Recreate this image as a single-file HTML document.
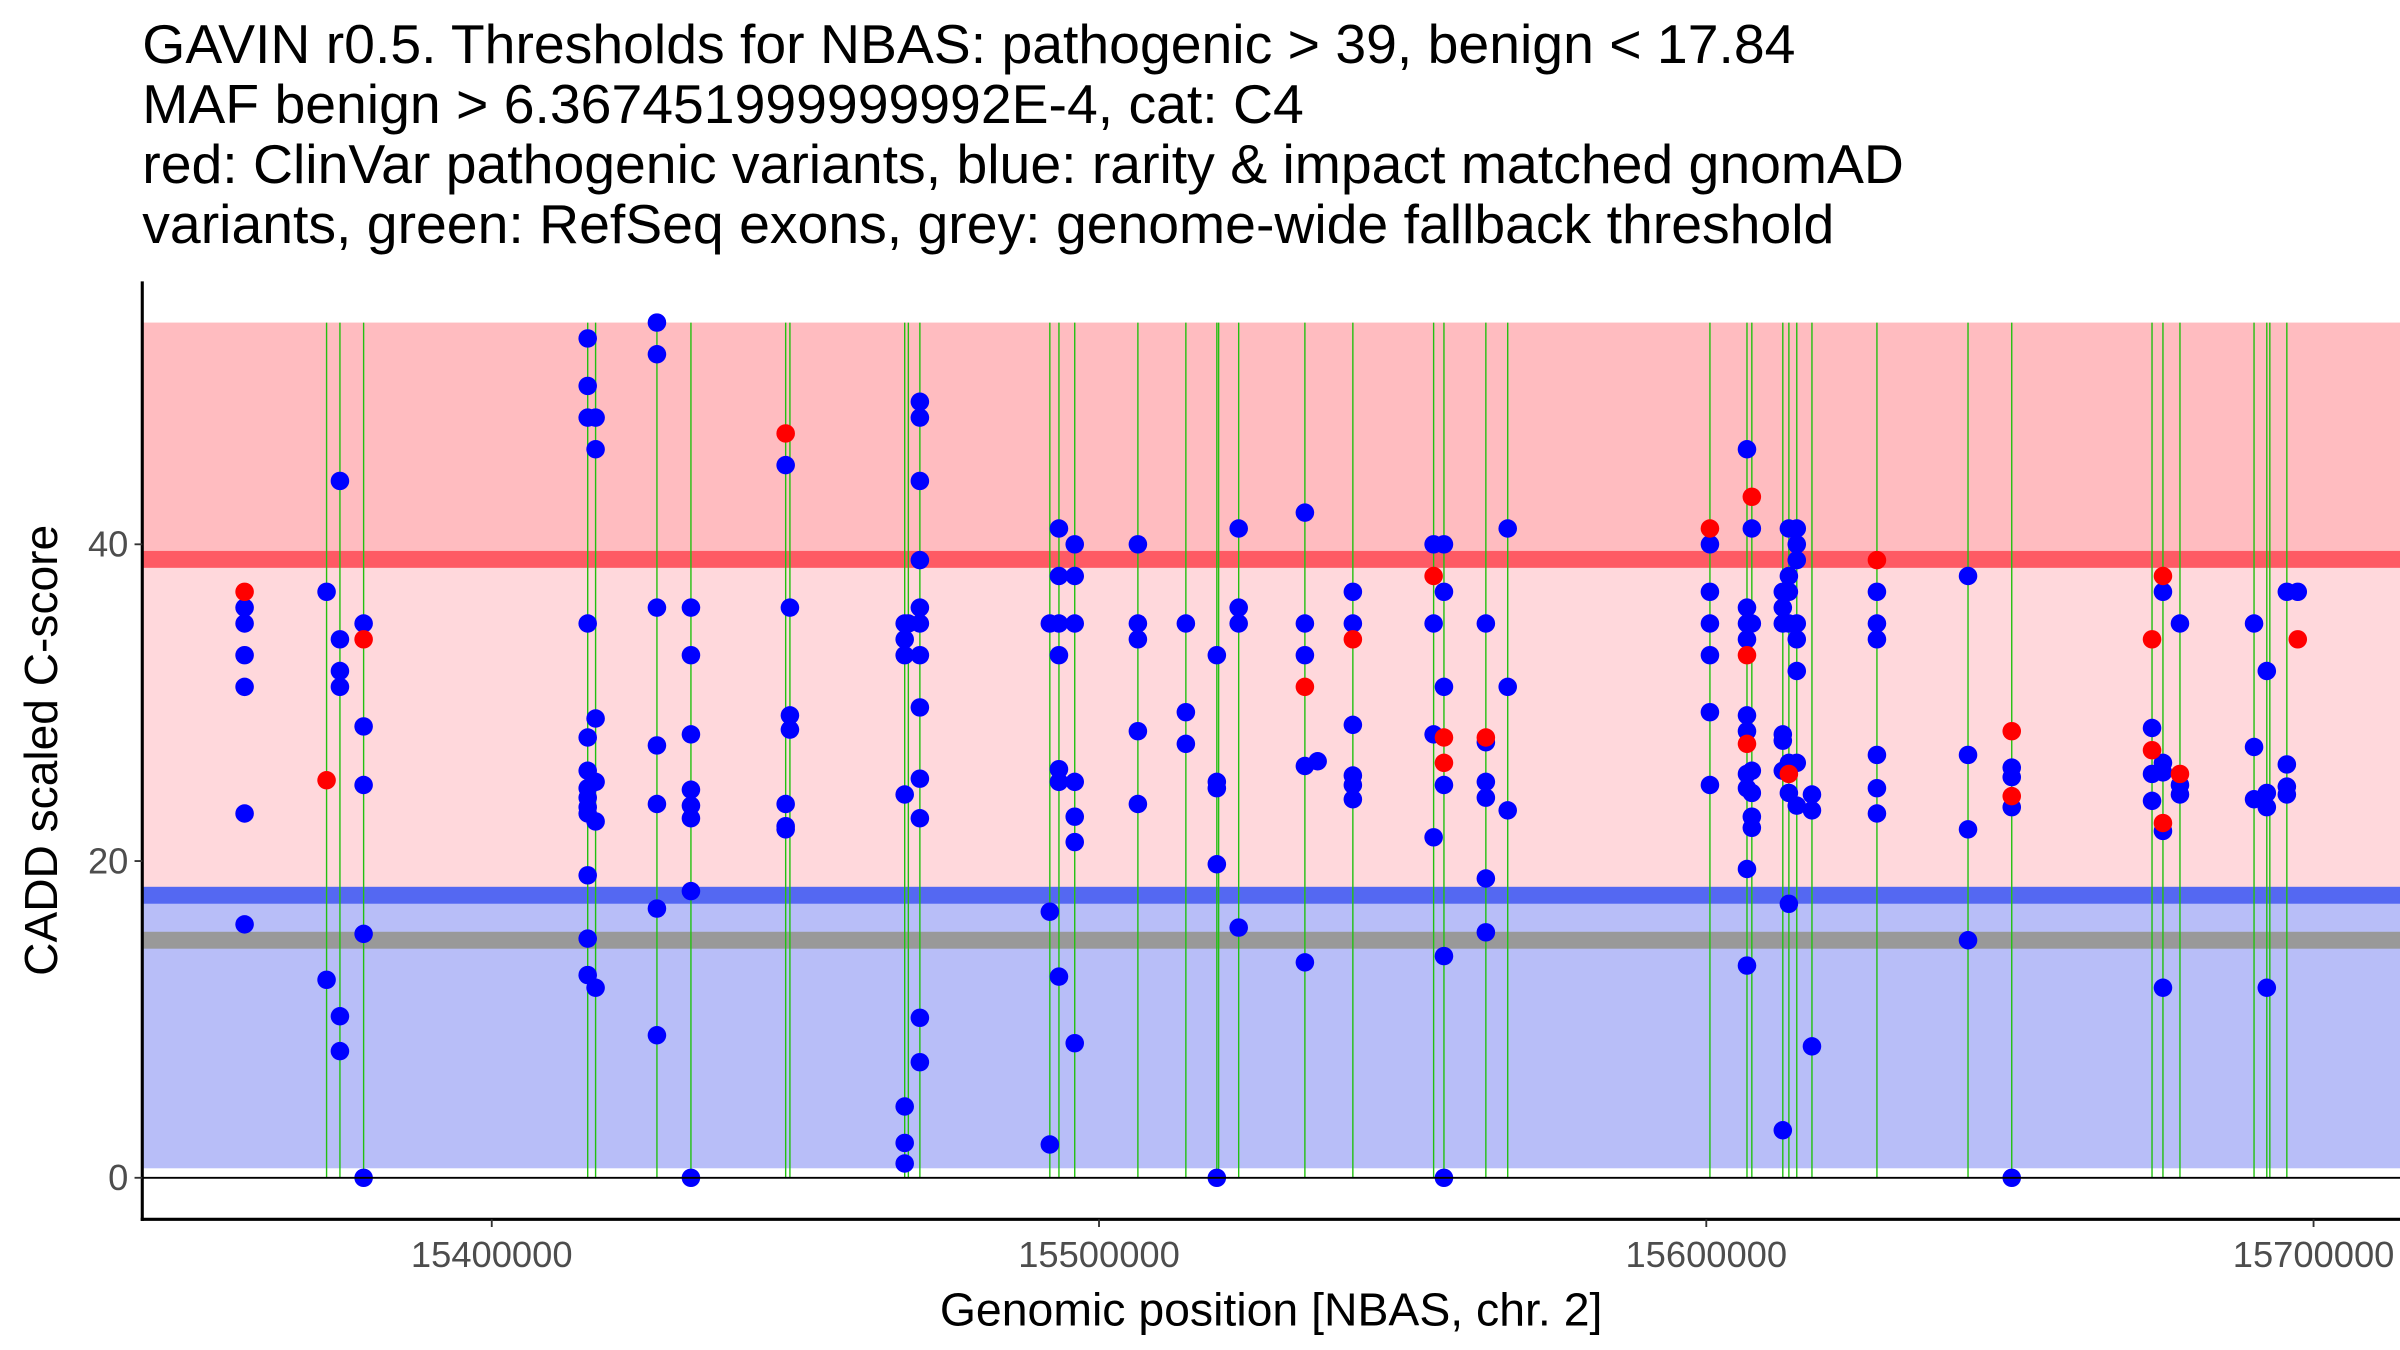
<!DOCTYPE html>
<html><head><meta charset="utf-8"><style>
html,body{margin:0;padding:0;background:#fff;width:2400px;height:1350px;overflow:hidden}
svg{display:block}
text{font-family:"Liberation Sans",Arial,sans-serif}
</style></head><body>
<svg id="chart" width="2400" height="1350" viewBox="0 0 1552 878" preserveAspectRatio="none" xmlns="http://www.w3.org/2000/svg">
<g font-size="35.8" fill="#000">
<text x="92" y="41">GAVIN r0.5. Thresholds for NBAS: pathogenic &gt; 39, benign &lt; 17.84</text>
<text x="92" y="80">MAF benign &gt; 6.367451999999992E-4, cat: C4</text>
<text x="92" y="119">red: ClinVar pathogenic variants, blue: rarity &amp; impact matched gnomAD</text>
<text x="92" y="158">variants, green: RefSeq exons, grey: genome-wide fallback threshold</text>
</g>
<g id="bands"></g>
<g id="exons"></g>
<g id="points"></g>
<g id="axes"></g>
<text x="822" y="862" font-size="30" text-anchor="middle">Genomic position [NBAS, chr. 2]</text>
<text transform="translate(37,488) rotate(-90)" font-size="30" text-anchor="middle">CADD scaled C-score</text>
</svg>
<script>
const yTicks=[0,20,40];
const xTicks=[15400000,15500000,15600000,15700000];
const pathoThr=39, benignThr=17.84, fallbackThr=15, yMax=54, yMinBand=0.6;
const exonKb=[15372.8,15375.0,15378.9,15415.8,15417.1,15427.2,15432.8,15448.4,15449.1,15468.0,15468.6,15470.5,15491.9,15493.4,15496.0,15506.4,15514.3,15519.4,15519.7,15523.0,15533.9,15541.8,15555.1,15556.8,15563.7,15567.3,15600.6,15606.7,15607.5,15612.6,15613.6,15614.9,15617.4,15628.1,15643.1,15650.3,15673.4,15675.2,15678.0,15690.2,15692.3,15692.8,15695.6];
const blueKb=[15359.3,15359.3,15359.3,15359.3,15359.3,15359.3,
15372.8,15372.8,
15375.0,15375.0,15375.0,15375.0,15375.0,15375.0,
15378.9,15378.9,15378.9,15378.9,15378.9,
15415.8,15415.8,15415.8,15415.8,15415.8,15415.8,15415.8,15415.8,15415.8,15415.8,15415.8,15415.8,15415.8,
15417.1,15417.1,15417.1,15417.1,15417.1,15417.1,
15427.2,15427.2,15427.2,15427.2,15427.2,15427.2,15427.2,
15432.8,15432.8,15432.8,15432.8,15432.8,15432.8,15432.8,15432.8,
15448.4,15448.4,15448.4,15448.4,
15449.1,15449.1,15449.1,
15468.0,15468.0,15468.0,15468.0,15468.0,15468.0,15468.0,15468.6,
15470.5,15470.5,15470.5,15470.5,15470.5,15470.5,15470.5,15470.5,15470.5,15470.5,15470.5,15470.5,
15491.9,15491.9,15491.9,
15493.4,15493.4,15493.4,15493.4,15493.4,15493.4,15493.4,
15496.0,15496.0,15496.0,15496.0,15496.0,15496.0,15496.0,
15506.4,15506.4,15506.4,15506.4,15506.4,
15514.3,15514.3,15514.3,
15519.4,15519.4,15519.4,15519.4,15519.4,
15523.0,15523.0,15523.0,15523.0,
15533.9,15533.9,15533.9,15533.9,15533.9,15536.0,
15541.8,15541.8,15541.8,15541.8,15541.8,15541.8,
15555.1,15555.1,15555.1,15555.1,
15556.8,15556.8,15556.8,15556.8,15556.8,15556.8,
15563.7,15563.7,15563.7,15563.7,15563.7,15563.7,
15567.3,15567.3,15567.3,
15600.6,15600.6,15600.6,15600.6,15600.6,15600.6,
15606.7,15606.7,15606.7,15606.7,15606.7,15606.7,15606.7,15606.7,15606.7,15606.7,
15607.5,15607.5,15607.5,15607.5,15607.5,15607.5,
15612.6,15612.6,15612.6,15612.6,15612.6,15612.6,15612.6,
15613.6,15613.6,15613.6,15613.6,15613.6,15613.6,15613.6,
15614.9,15614.9,15614.9,15614.9,15614.9,15614.9,15614.9,15614.9,
15617.4,15617.4,15617.4,
15628.1,15628.1,15628.1,15628.1,15628.1,15628.1,
15643.1,15643.1,15643.1,15643.1,
15650.3,15650.3,15650.3,15650.3,
15673.4,15673.4,15673.4,
15675.2,15675.2,15675.2,15675.2,15675.2,
15678.0,15678.0,15678.0,
15690.2,15690.2,15690.2,
15692.3,15692.3,15692.3,15692.3,
15695.6,15695.6,15695.6,15695.6,
15697.4];
const blueScore=[36,35,33,31,23,16,
37,12.5,
44,34,32,31,10.2,8,
35,28.5,24.8,15.4,0,
53,50,48,35,27.8,25.7,24.6,24,23.4,23,19.1,15.1,12.8,
48,46,29,25,22.5,12,
54,52,36,27.3,23.6,17,9,
36,33,28,24.5,23.5,22.7,18.1,0,
45,23.6,22.2,22,
36,29.2,28.3,
35,34,33,24.2,4.5,2.2,0.9,35,
49,48,44,39,36,35,33,29.7,25.2,22.7,10.1,7.3,
35,16.8,2.1,
41,38,35,33,25.8,25,12.7,
40,38,35,25,22.8,21.2,8.5,
40,35,34,28.2,23.6,
35,29.4,27.4,
33,25,24.6,19.8,0,
41,36,35,15.8,
42,35,33,26,13.6,26.3,
37,35,28.6,25.4,24.8,23.9,
40,35,28,21.5,
40,37,31,24.8,14,0,
35,27.5,25,24,18.9,15.5,
41,31,23.2,
40,37,35,33,29.4,24.8,
46,36,35,34,29.2,28.2,25.5,24.6,19.5,13.4,
41,35,25.7,24.3,22.8,22.1,
3,28,27.6,25.7,37,36,35,
41,38,37,35,26.2,24.3,17.3,
41,40,39,35,34,32,26.2,23.5,
24.2,23.2,8.3,
37,35,34,26.7,24.6,23,
38,26.7,22,15,
25.9,25.3,23.4,0,
28.4,25.5,23.8,
37,26.2,25.6,21.9,12,
35,24.8,24.2,
35,27.2,23.9,
32,24.3,23.4,12,
37,26.1,24.7,24.2,
37];
const redKb=[15359.3,15372.8,15378.9,15448.4,15533.9,15541.8,15555.1,15556.8,15556.8,15563.7,15600.6,15606.7,15606.7,15607.5,15613.6,15628.1,15650.3,15650.3,15673.4,15673.4,15675.2,15675.2,15678.0,15697.4];
const redScore=[37,25.1,34,47,31,34,38,27.8,26.2,27.8,41,33,27.4,43,25.5,39,28.2,24.1,34,27,38,22.4,25.5,34];

const NS='http://www.w3.org/2000/svg';
const X0=92,X1=1552,Y0=183,YB=793;
function xs(kb){return 318+(kb*1000-15400000)/100000*392.7;}
function ys(v){return 766-v*10.3;}
function mk(tag,attrs,parent){const e=document.createElementNS(NS,tag);for(const k in attrs)e.setAttribute(k,attrs[k]);parent.appendChild(e);return e;}
const bands=document.getElementById('bands');
let r;
r=mk('rect',{x:X0,y:ys(yMax),width:X1-X0,height:ys(pathoThr)-ys(yMax),fill:'#ffbcc0'},bands);

r=mk('rect',{x:X0,y:ys(pathoThr),width:X1-X0,height:ys(benignThr)-ys(pathoThr),fill:'#ffd8dc'},bands);

r=mk('rect',{x:X0,y:ys(benignThr),width:X1-X0,height:ys(yMinBand)-ys(benignThr),fill:'#b8bef8'},bands);

r=mk('rect',{x:X0,y:ys(pathoThr)-6,width:X1-X0,height:11,fill:'#fe5a64'},bands);

r=mk('rect',{x:X0,y:ys(benignThr)-5.5,width:X1-X0,height:11,fill:'#5468f2'},bands);

r=mk('rect',{x:X0,y:ys(fallbackThr)-5.5,width:X1-X0,height:11,fill:'#999999'},bands);

const ex=document.getElementById('exons');
exonKb.forEach(k=>{const l=mk('line',{x1:xs(k),x2:xs(k),y1:ys(yMax),y2:ys(0),stroke:'#22c010','stroke-width':0.9},ex);

});
const pts=document.getElementById('points');
blueKb.forEach((k,i)=>{const c=mk('circle',{cx:xs(k),cy:ys(blueScore[i]),r:6,fill:'#0000ff'},pts);

});
redKb.forEach((k,i)=>{const c=mk('circle',{cx:xs(k),cy:ys(redScore[i]),r:6,fill:'#ff0000'},pts);

});
const ax=document.getElementById('axes');
let a=mk('line',{x1:X0,x2:X0,y1:Y0,y2:YB+1,stroke:'#000','stroke-width':2},ax);

a=mk('line',{x1:X0-1,x2:X1,y1:YB,y2:YB,stroke:'#000','stroke-width':2},ax);

a=mk('line',{x1:X0,x2:X1,y1:ys(0),y2:ys(0),stroke:'#000','stroke-width':1.2},ax);

yTicks.forEach(v=>{const t=mk('line',{x1:X0-5,x2:X0,y1:ys(v),y2:ys(v),stroke:'#333','stroke-width':1.2},ax);


const tx=mk('text',{x:X0-9,y:ys(v)+8,'text-anchor':'end','font-size':23.5,fill:'#4d4d4d'},ax);tx.textContent=v;

});
xTicks.forEach(v=>{const x=xs(v/1000);const t=mk('line',{x1:x,x2:x,y1:YB,y2:YB+5,stroke:'#333','stroke-width':1.2},ax);


const tx=mk('text',{x:x,y:YB+31,'text-anchor':'middle','font-size':23.5,fill:'#4d4d4d'},ax);tx.textContent=v;

});
</script>
</body></html>
